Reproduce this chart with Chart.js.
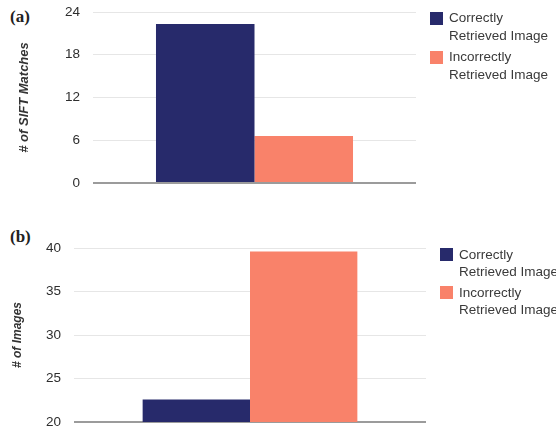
<!DOCTYPE html>
<html>
<head>
<meta charset="utf-8">
<script src="https://cdn.jsdelivr.net/npm/chart.js@4"></script>
<style>
  html, body { margin: 0; padding: 0; background: #fff; }
  body { width: 556px; height: 431px; position: relative; overflow: hidden;
         font-family: "Liberation Sans", Arial, sans-serif; }
  canvas { position: absolute; left: 0; }
  .tag { position: absolute; left: 10px; font: bold 17px "Liberation Serif", "Times New Roman", serif; color: #222; line-height: 20px; }
  .legend { position: absolute; width: 122px; color: #3a3a3a; font-size: 13.5px; }
  .item { position: relative; padding-left: 19px; }
  .sw { position: absolute; left: 0; width: 13px; height: 13px; }
</style>
</head>
<body>
<div class="tag" style="top:7px">(a)</div>
<canvas id="chartA" width="556" height="200" style="top:0"></canvas>
<div class="legend" id="legendA" style="left:430px; top:9px; line-height:18px"></div>

<div class="tag" style="top:227px">(b)</div>
<canvas id="chartB" width="556" height="211" style="top:220px"></canvas>
<div class="legend" id="legendB" style="left:440px; top:246px; line-height:17px"></div>

<script>
// Series shared by both panels
const seriesNames = ['Correctly Retrieved Image', 'Incorrectly Retrieved Image'];
const seriesColors = ['#272a6b', '#f9826a'];

// (a) number of SIFT matches per retrieval outcome
const siftMatches = [22.3, 6.6];
const siftTicks = [0, 6, 12, 18, 24];

// (b) number of images per retrieval outcome
const imageCounts = [22.6, 39.6];
const imageTicks = [20, 25, 30, 35, 40];

function buildChart(id, values, ticks, axisTitle, opts) {
  const datasets = seriesNames.map((name, i) => ({
    label: name,
    data: [values[i]],
    backgroundColor: seriesColors[i],
    borderWidth: 0,
    categoryPercentage: 0.61,
    barPercentage: 1.0
  }));
  return new Chart(document.getElementById(id), {
    type: 'bar',
    data: { labels: [''], datasets },
    options: {
      responsive: false,
      animation: false,
      devicePixelRatio: 1,
      layout: { padding: opts.padding },
      plugins: { legend: { display: false }, tooltip: { enabled: false } },
      scales: {
        x: { display: false },
        y: {
          min: ticks[0],
          max: ticks[ticks.length - 1],
          afterBuildTicks: s => { s.ticks = ticks.map(v => ({ value: v })); },
          afterFit: s => {
            // fixed axis box; the layout padding already leaves room for the end labels
            s.width = opts.axisWidth;
            s.paddingTop = 0;
            s.paddingBottom = 0;
          },
          border: { display: false },
          grid: {
            drawTicks: false,
            color: c => (c.tick && c.tick.value === ticks[0]) ? '#9b9b9b' : '#e6e6e6',
            lineWidth: c => (c.tick && c.tick.value === ticks[0]) ? 2 : 1
          },
          ticks: {
            padding: 13,
            color: '#2e2e2e',
            font: { family: '"Liberation Sans", Arial, sans-serif', size: 13.5 }
          },
          title: {
            display: true,
            text: axisTitle,
            color: '#333',
            font: { family: '"Liberation Sans", Arial, sans-serif', size: opts.titleSize, style: 'italic', weight: 'bold' },
            padding: { top: opts.titlePad, bottom: 0 }
          }
        }
      }
    }
  });
}

function buildLegend(id, itemGap) {
  const box = document.getElementById(id);
  const lh = parseFloat(box.style.lineHeight);
  seriesNames.forEach((name, i) => {
    const item = document.createElement('div');
    item.className = 'item';
    if (i > 0) item.style.marginTop = itemGap + 'px';
    const sw = document.createElement('span');
    sw.className = 'sw';
    sw.style.background = seriesColors[i];
    sw.style.top = ((lh - 13) / 2) + 'px';
    item.appendChild(sw);
    item.appendChild(document.createTextNode(name));
    box.appendChild(item);
  });
}

buildChart('chartA', siftMatches, siftTicks, '# of SIFT Matches',
  { padding: { top: 12, bottom: 17, left: 0, right: 140 }, axisWidth: 93, titleSize: 13, titlePad: 17 });
buildChart('chartB', imageCounts, imageTicks, '# of Images',
  { padding: { top: 28, bottom: 9, left: 0, right: 130 }, axisWidth: 74, titleSize: 12, titlePad: 10 });

buildLegend('legendA', 3);
buildLegend('legendB', 4);
</script>
</body>
</html>
